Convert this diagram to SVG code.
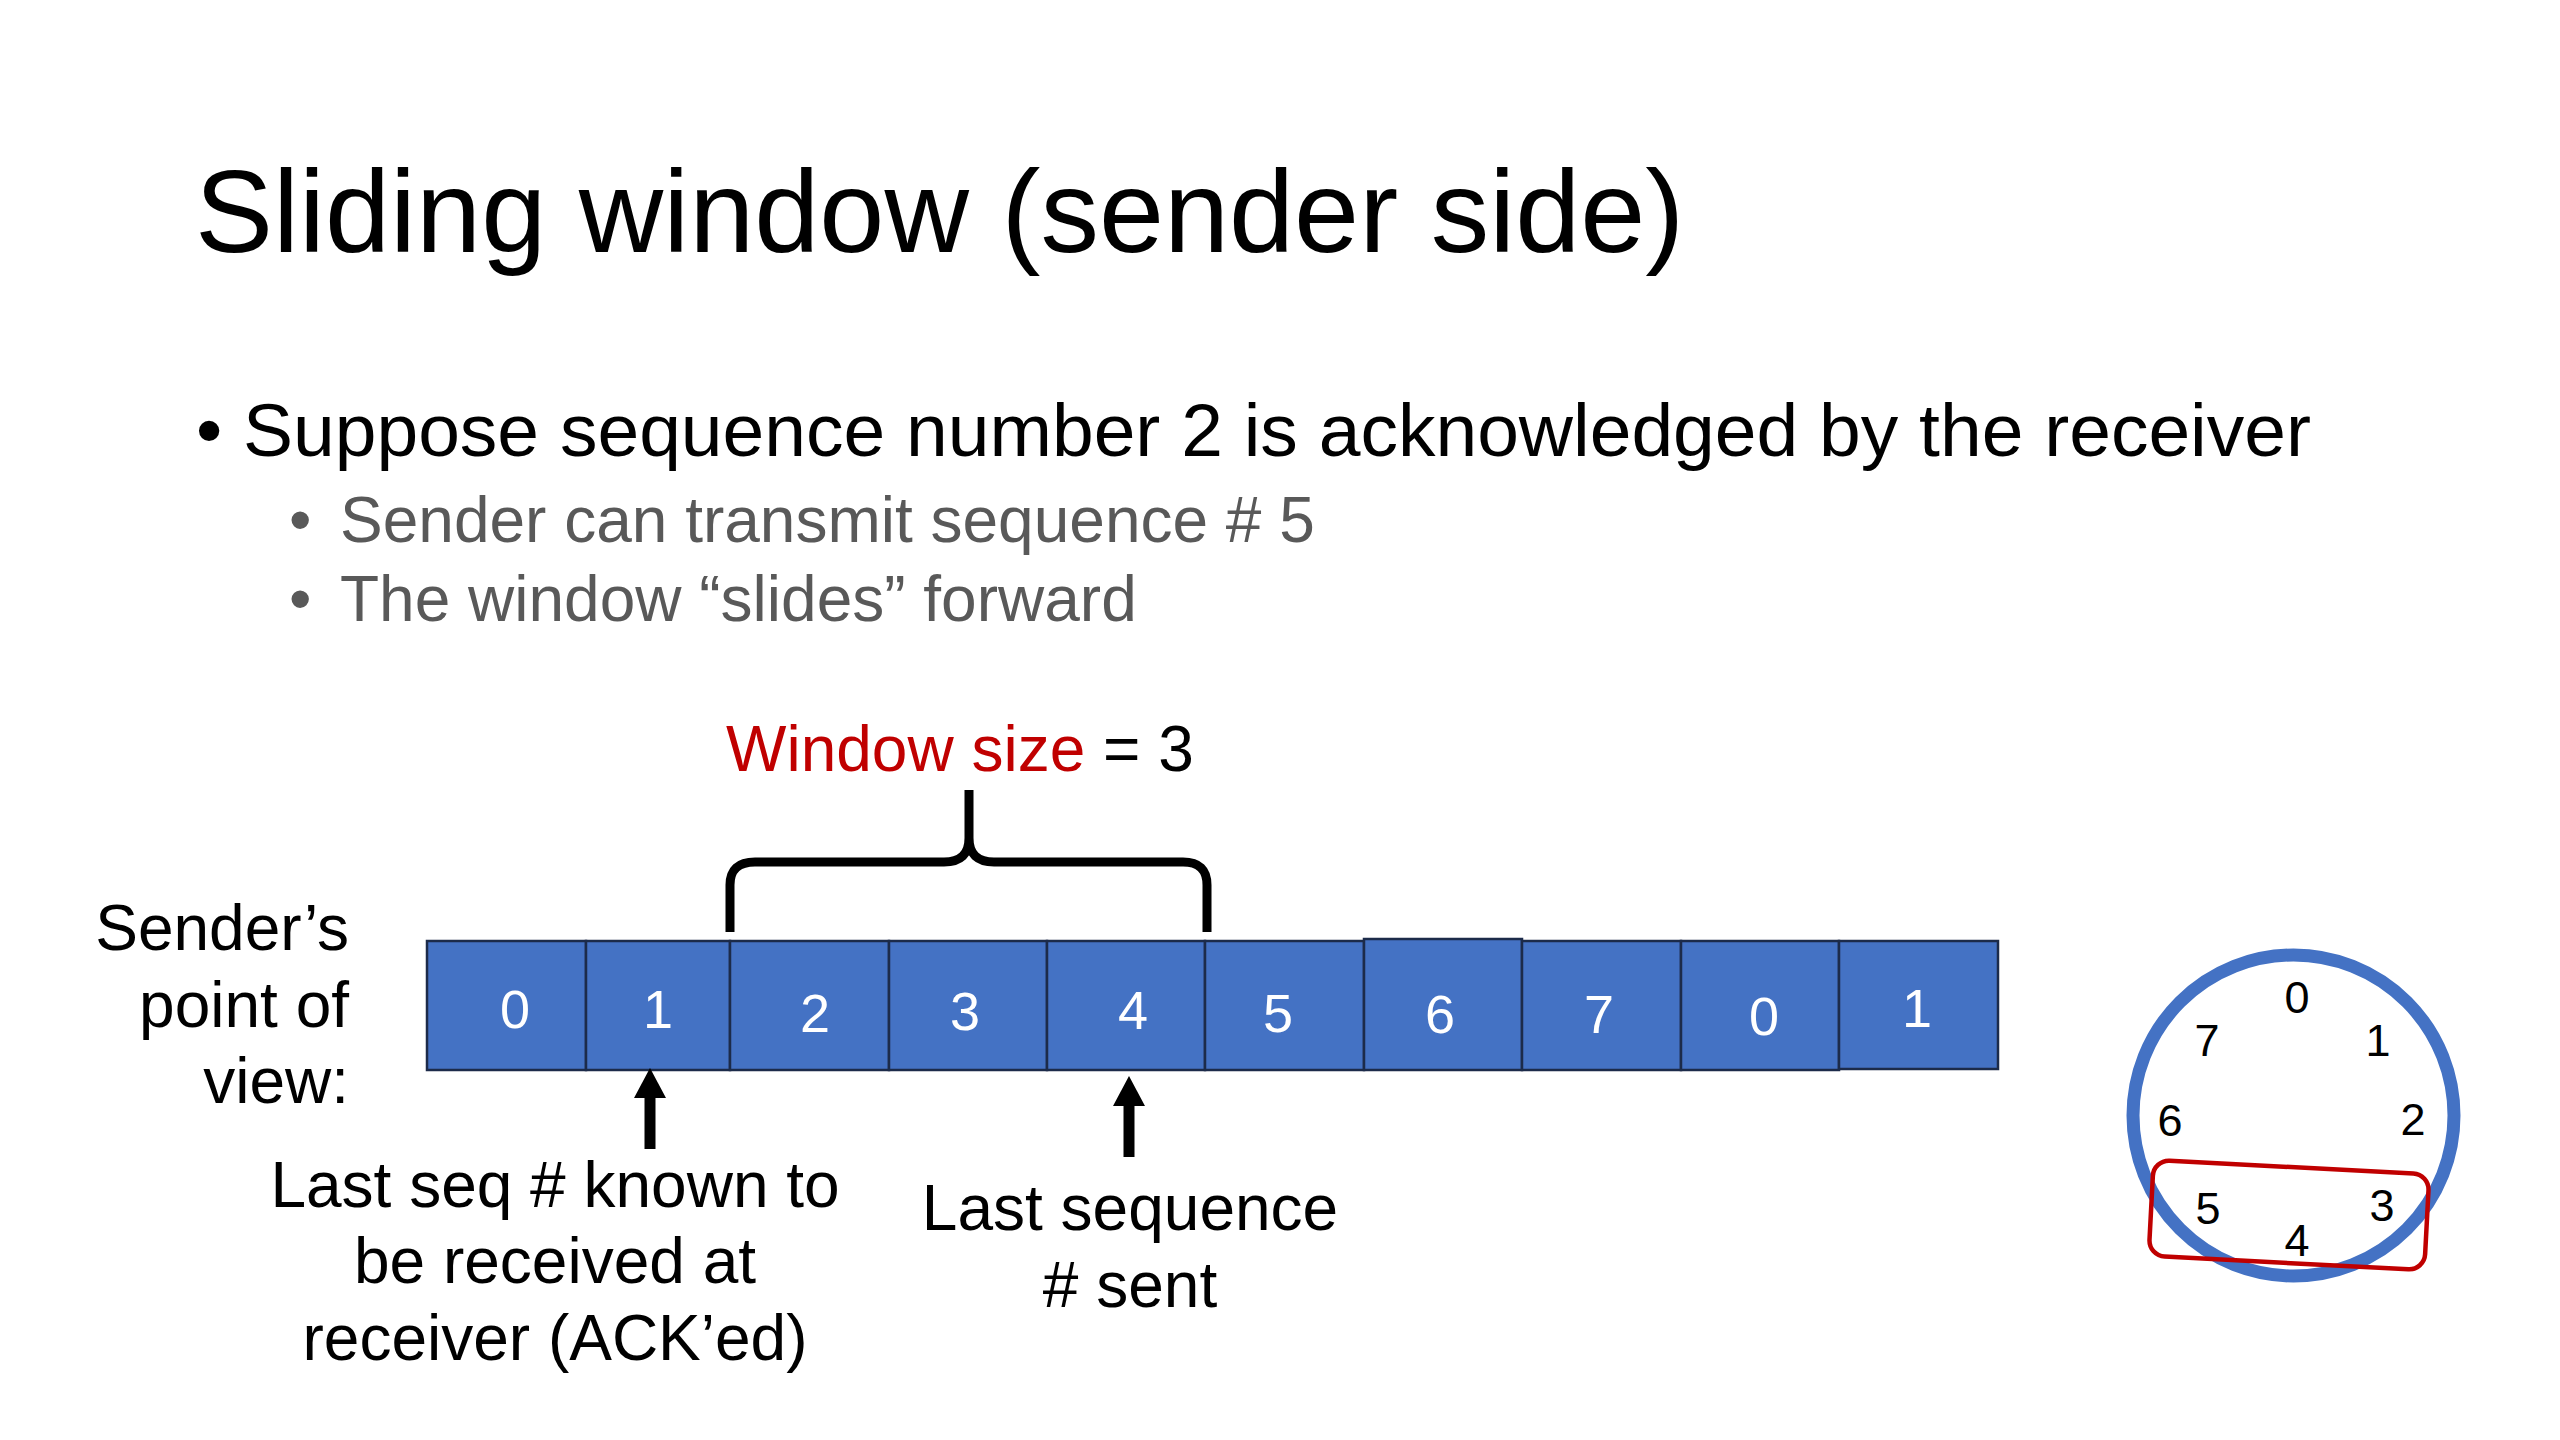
<svg xmlns="http://www.w3.org/2000/svg" width="2560" height="1440" viewBox="0 0 2560 1440">
<defs>
<style>
text{font-family:"Liberation Sans",Arial,Helvetica,sans-serif;}
.title{font-size:117px;fill:#000;}
.b1{font-size:75px;fill:#000;}
.b2{font-size:64px;fill:#595959;}
.lbl{font-size:64px;fill:#000;}
.cell rect{fill:#4472C4;stroke:#1C2B4A;stroke-width:2.5;}
.cell text{font-size:54px;fill:#fff;text-anchor:middle;}
.ring text{font-size:45px;fill:#000;text-anchor:middle;}
.conn{fill:none;stroke:#000;}
</style>
<marker id="ah" markerUnits="userSpaceOnUse" viewBox="0 0 30 32" markerWidth="30" markerHeight="32" refX="0" refY="16" orient="auto">
<path d="M0,0 L30,16 L0,32 z" fill="#000"/>
</marker>
</defs>
<rect width="2560" height="1440" fill="#fff"/>

<g id="title"><text class="title" x="195" y="252">Sliding window (sender side)</text></g>

<g id="bullets">
<text class="b1" x="196" y="456">•</text>
<text class="b1" x="243" y="456">Suppose sequence number 2 is acknowledged by the receiver</text>
<text class="b2" x="289" y="542">•</text>
<text class="b2" x="340" y="542">Sender can transmit sequence # 5</text>
<text class="b2" x="289" y="621">•</text>
<text class="b2" x="340" y="621">The window “slides” forward</text>
</g>

<g id="window-label"><text class="lbl" x="726" y="771"><tspan fill="#C00000">Window size</tspan> = 3</text></g>

<g id="senders-pov">
<text class="lbl" text-anchor="end" x="349" y="950">Sender’s</text>
<text class="lbl" text-anchor="end" x="349" y="1027">point of</text>
<text class="lbl" text-anchor="end" x="349" y="1103">view:</text>
</g>

<g id="cells">
<g id="cell-0" class="cell"><rect x="427" y="941" width="159" height="129"/><text x="515" y="1028">0</text></g>
<g id="cell-1" class="cell"><rect x="586" y="941" width="144" height="129"/><text x="658" y="1028">1</text></g>
<g id="cell-2" class="cell"><rect x="730" y="941" width="159" height="129"/><text x="815" y="1032">2</text></g>
<g id="cell-3" class="cell"><rect x="889" y="941" width="158" height="129"/><text x="965" y="1030">3</text></g>
<g id="cell-4" class="cell"><rect x="1047" y="941" width="158" height="129"/><text x="1133" y="1029">4</text></g>
<g id="cell-5" class="cell"><rect x="1205" y="941" width="159" height="129"/><text x="1278" y="1032">5</text></g>
<g id="cell-6" class="cell"><rect x="1364" y="939" width="158" height="131"/><text x="1440" y="1033">6</text></g>
<g id="cell-7" class="cell"><rect x="1522" y="941" width="159" height="129"/><text x="1599" y="1033">7</text></g>
<g id="cell-8" class="cell"><rect x="1681" y="941" width="158" height="129"/><text x="1764" y="1035">0</text></g>
<g id="cell-9" class="cell"><rect x="1839" y="941" width="159" height="128"/><text x="1917" y="1027">1</text></g>
</g>

<g id="connectors">
<path class="conn" stroke-width="9" stroke-linejoin="round" d="M730 932 V885 Q730 862 755 862 H944 Q969 862 969 838 V790 M969 838 Q969 862 994 862 H1183 Q1207 862 1207 885 V932"/>
<line class="conn" stroke-width="11" x1="650" y1="1149" x2="650" y2="1098" marker-end="url(#ah)"/>
<line class="conn" stroke-width="11" x1="1129" y1="1157" x2="1129" y2="1106" marker-end="url(#ah)"/>
</g>

<g id="label-acked">
<text class="lbl" text-anchor="middle" x="555" y="1207">Last seq # known to</text>
<text class="lbl" text-anchor="middle" x="555" y="1283">be received at</text>
<text class="lbl" text-anchor="middle" x="555" y="1360">receiver (ACK’ed)</text>
</g>

<g id="label-sent">
<text class="lbl" text-anchor="middle" x="1130" y="1230">Last sequence</text>
<text class="lbl" text-anchor="middle" x="1130" y="1307"># sent</text>
</g>

<g id="ring" class="ring">
<circle cx="2293.5" cy="1115.5" r="160.5" fill="none" stroke="#4472C4" stroke-width="13"/>
<text x="2297" y="1013">0</text>
<text x="2378" y="1056">1</text>
<text x="2413" y="1135">2</text>
<text x="2382" y="1221">3</text>
<text x="2297" y="1256">4</text>
<text x="2208" y="1224">5</text>
<text x="2170" y="1136">6</text>
<text x="2207" y="1056">7</text>
<rect x="2151" y="1167" width="276" height="96" rx="16" fill="none" stroke="#C00000" stroke-width="4.5" transform="rotate(3 2289 1215)"/>
</g>
</svg>
